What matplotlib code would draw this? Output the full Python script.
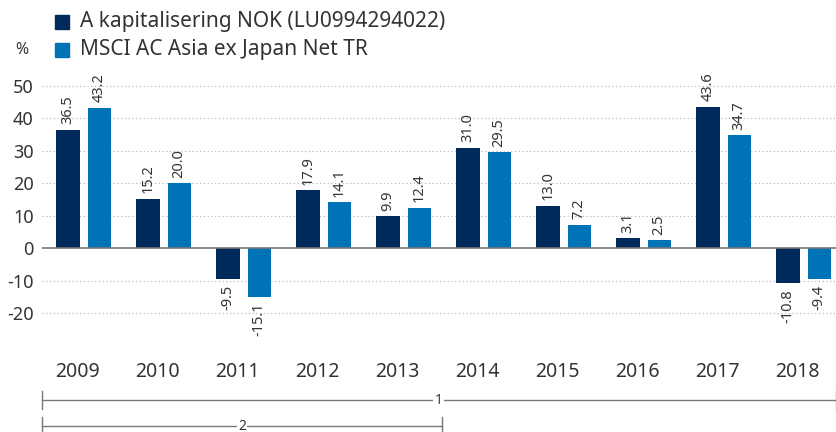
import matplotlib
matplotlib.use("Agg")
import matplotlib.pyplot as plt
from matplotlib.patches import Rectangle
from matplotlib.lines import Line2D
import numpy as np

years = ["2009", "2010", "2011", "2012", "2013", "2014", "2015", "2016", "2017", "2018"]
fund = [36.5, 15.2, -9.5, 17.9, 9.9, 31.0, 13.0, 3.1, 43.6, -10.8]
index = [43.2, 20.0, -15.1, 14.1, 12.4, 29.5, 7.2, 2.5, 34.7, -9.4]
series_names = ["A kapitalisering NOK (LU0994294022)", "MSCI AC Asia ex Japan Net TR"]
yticks = [-20, -10, 0, 10, 20, 30, 40, 50]

DARK = "#002a5c"
LIGHT = "#0073b7"
TXT = "#333333"

plt.rcParams['font.family'] = ['Noto Sans', 'DejaVu Sans']

W, H = 836, 432
fig = plt.figure(figsize=(W / 100, H / 100), dpi=100)
ax_left = 42 / W
ax_bottom = (H - 345.8) / H
ax_top = (H - 69.5) / H
ax = fig.add_axes([ax_left, ax_bottom, 1 - ax_left, ax_top - ax_bottom])

x = np.arange(len(years))
bw = 0.29
off = 0.194
ax.bar(x - off, fund, width=bw, color=DARK, zorder=3)
ax.bar(x + off, index, width=bw, color=LIGHT, zorder=3)

for xs, vals in ((x - off, fund), (x + off, index)):
    for xi, v in zip(xs, vals):
        if v >= 0:
            ax.annotate(f"{v:.1f}", (xi, v), xytext=(0, 4), textcoords="offset points",
                        rotation=90, ha="center", va="bottom", fontsize=10.5, color=TXT)
        else:
            ax.annotate(f"{v:.1f}", (xi, v), xytext=(0, -4), textcoords="offset points",
                        rotation=90, ha="center", va="top", fontsize=10.5, color=TXT)

ax.set_xlim(-0.52, 9.405)
ax.set_ylim(-30, 55)
ax.set_yticks(yticks)
ax.set_yticklabels([str(t) for t in yticks], fontsize=13, color=TXT)
ax.tick_params(axis="y", length=0, pad=6)
ax.set_xticks(x - 0.08)
ax.set_xticklabels(years, fontsize=14, color=TXT)
ax.tick_params(axis="x", length=0, pad=12)
for s in ax.spines.values():
    s.set_visible(False)
for t in yticks:
    if t != 0:
        ax.axhline(t, color="#bbbbbb", lw=0.9, ls=(0, (1, 2)), zorder=1)
ax.axhline(0, color="#777777", lw=1.2, zorder=4)

# legend
for i, (name, col) in enumerate(zip(series_names, [DARK, LIGHT])):
    yc = 22 + i * 28
    fig.patches.append(Rectangle((55 / W, 1 - (yc + 7) / H), 14 / W, 14 / H,
                                 transform=fig.transFigure, color=col))
    fig.text(80 / W, 1 - yc / H, name, fontsize=15, color=TXT, va="center", ha="left")
fig.text(22 / W, 1 - 50 / H, "%", fontsize=11.5, color=TXT, va="center", ha="center")

# period brackets
def bracket(x0, x1, yl, label):
    yc = 1 - yl / H
    tk = 9 / H
    fig.add_artist(Line2D([x0 / W, x1 / W], [yc, yc], transform=fig.transFigure, color="#777777", lw=1))
    fig.add_artist(Line2D([x0 / W, x0 / W], [yc - tk, yc + tk], transform=fig.transFigure, color="#777777", lw=1))
    fig.add_artist(Line2D([x1 / W, x1 / W], [yc - tk, yc + tk], transform=fig.transFigure, color="#777777", lw=1))
    fig.text((x0 + x1) / 2 / W, yc, label, fontsize=10, color=TXT, ha="center", va="center",
             bbox=dict(facecolor="white", edgecolor="none", pad=1))

bracket(42, 835.5, 400, "1")
bracket(42, 442, 426, "2")

fig.savefig("out.png", dpi=100)
